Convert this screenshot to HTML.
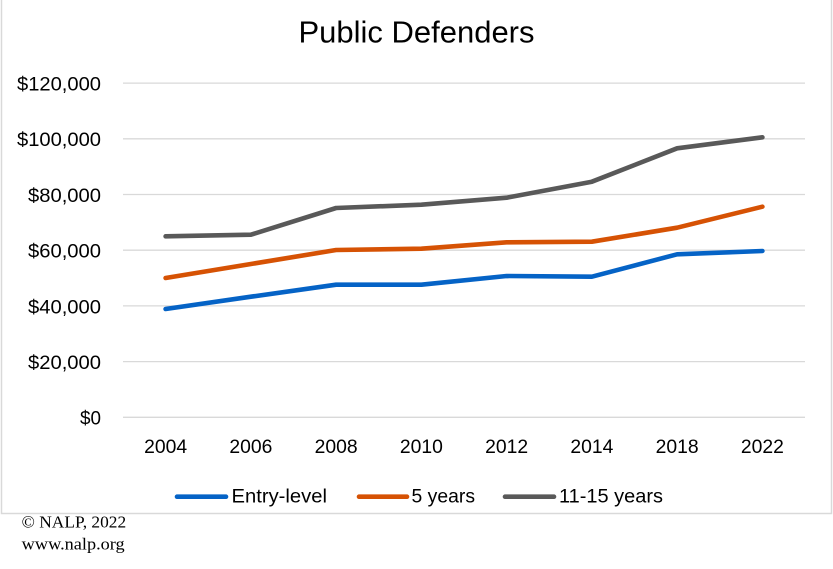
<!DOCTYPE html>
<html>
<head>
<meta charset="utf-8">
<style>
  html, body { margin: 0; padding: 0; background: #fff; }
  svg { display: block; }
  text { font-family: "Liberation Sans", sans-serif; fill: #000; }
  .ser { font-family: "Liberation Serif", serif; }
</style>
</head>
<body>
<svg width="833" height="569" viewBox="0 0 833 569" xmlns="http://www.w3.org/2000/svg">
  <rect x="0" y="0" width="833" height="569" fill="#fff"/>
  <!-- chart border -->
  <path d="M1.5,-2 L1.5,513.5 L831.5,513.5 L831.5,-2" fill="none" stroke="#d9d9d9" stroke-width="1.5"/>

  <!-- title -->
  <text x="298.5" y="42.5" font-size="31" textLength="236" lengthAdjust="spacingAndGlyphs">Public Defenders</text>

  <!-- gridlines -->
  <g stroke="#d9d9d9" stroke-width="1.3">
    <line x1="123" y1="83.1" x2="805" y2="83.1"/>
    <line x1="123" y1="138.8" x2="805" y2="138.8"/>
    <line x1="123" y1="194.5" x2="805" y2="194.5"/>
    <line x1="123" y1="250.2" x2="805" y2="250.2"/>
    <line x1="123" y1="305.9" x2="805" y2="305.9"/>
    <line x1="123" y1="361.6" x2="805" y2="361.6"/>
    <line x1="123" y1="417.3" x2="805" y2="417.3"/>
  </g>

  <!-- y labels -->
  <g font-size="19" text-anchor="end">
    <text x="101" y="90.5" textLength="84" lengthAdjust="spacingAndGlyphs">$120,000</text>
    <text x="101" y="146.2" textLength="84" lengthAdjust="spacingAndGlyphs">$100,000</text>
    <text x="101" y="201.9" textLength="73" lengthAdjust="spacingAndGlyphs">$80,000</text>
    <text x="101" y="257.6" textLength="73" lengthAdjust="spacingAndGlyphs">$60,000</text>
    <text x="101" y="313.3" textLength="73" lengthAdjust="spacingAndGlyphs">$40,000</text>
    <text x="101" y="369" textLength="73" lengthAdjust="spacingAndGlyphs">$20,000</text>
    <text x="101" y="424.7" textLength="21" lengthAdjust="spacingAndGlyphs">$0</text>
  </g>

  <!-- x labels -->
  <g font-size="19" text-anchor="middle">
    <text x="165.6" y="453" textLength="43" lengthAdjust="spacingAndGlyphs">2004</text>
    <text x="250.9" y="453" textLength="43" lengthAdjust="spacingAndGlyphs">2006</text>
    <text x="336.1" y="453" textLength="43" lengthAdjust="spacingAndGlyphs">2008</text>
    <text x="421.4" y="453" textLength="43" lengthAdjust="spacingAndGlyphs">2010</text>
    <text x="506.6" y="453" textLength="43" lengthAdjust="spacingAndGlyphs">2012</text>
    <text x="591.9" y="453" textLength="43" lengthAdjust="spacingAndGlyphs">2014</text>
    <text x="677.1" y="453" textLength="43" lengthAdjust="spacingAndGlyphs">2018</text>
    <text x="762.4" y="453" textLength="43" lengthAdjust="spacingAndGlyphs">2022</text>
  </g>

  <!-- series -->
  <g fill="none" stroke-width="4.6" stroke-linecap="round" stroke-linejoin="round">
    <polyline stroke="#595959" points="165.6,236.3 250.9,234.7 336.1,208 421.4,204.7 506.6,197.7 591.9,181.7 677.1,148.3 762.4,137.3"/>
    <polyline stroke="#d65204" points="165.6,278 250.9,264 336.1,250 421.4,248.7 506.6,242.3 591.9,241.7 677.1,227.7 762.4,206.7"/>
    <polyline stroke="#0563c6" points="165.6,309 250.9,296.7 336.1,284.7 421.4,284.7 506.6,276 591.9,276.7 677.1,254.3 762.4,251"/>
  </g>

  <!-- legend -->
  <g stroke-width="4.6" stroke-linecap="round">
    <line x1="177" y1="496.7" x2="226" y2="496.7" stroke="#0563c6"/>
    <line x1="359" y1="496.7" x2="407" y2="496.7" stroke="#d65204"/>
    <line x1="505" y1="496.7" x2="554" y2="496.7" stroke="#595959"/>
  </g>
  <g font-size="19">
    <text x="231.5" y="502.7" textLength="95.5" lengthAdjust="spacingAndGlyphs">Entry-level</text>
    <text x="411.5" y="502.7" textLength="63.5" lengthAdjust="spacingAndGlyphs">5 years</text>
    <text x="559" y="502.7" textLength="104" lengthAdjust="spacingAndGlyphs">11-15 years</text>
  </g>

  <!-- footer -->
  <g class="ser" font-size="17">
    <text class="ser" x="21.7" y="527.3" textLength="104.5" lengthAdjust="spacingAndGlyphs">© NALP, 2022</text>
    <text class="ser" x="21.7" y="549.3" textLength="103" lengthAdjust="spacingAndGlyphs">www.nalp.org</text>
  </g>
</svg>
</body>
</html>
